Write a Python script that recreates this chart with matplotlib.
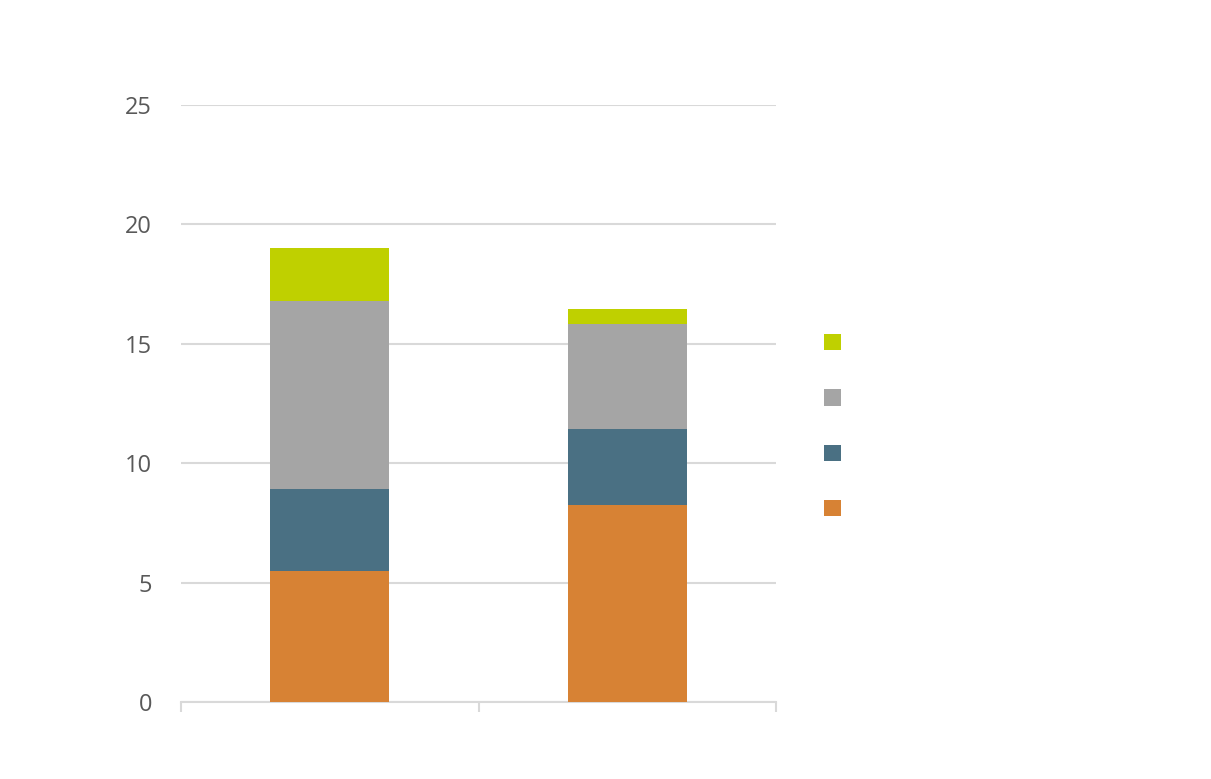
import matplotlib
matplotlib.use("Agg")
import matplotlib.pyplot as plt
import numpy as np

# data
categories = ["A", "B"]
orange = [5.5, 8.25]
blue = [3.4, 3.2]
gray = [7.9, 4.4]
green = [2.2, 0.6]

colors = ["#d78234", "#4a7083", "#a5a5a5", "#bfd000"]
series = [orange, blue, gray, green]

plt.rcParams['font.family'] = ['Open Sans', 'DejaVu Sans']

fig = plt.figure(figsize=(12.11, 7.79), dpi=100)
ax = fig.add_axes([0.1495, 0.0988, 0.4913, 0.7664])

x = np.arange(len(categories)) + 0.5
bottom = np.zeros(len(categories))
bars = []
for vals, c in zip(series, colors):
    b = ax.bar(x, vals, width=0.4, bottom=bottom, color=c, zorder=3)
    bars.append(b)
    bottom += np.array(vals)

ax.set_xlim(0, len(categories))
ax.set_ylim(0, 25)
ax.set_yticks(np.arange(0, 26, 5))
ax.set_xticks(np.arange(0, len(categories) + 1))
ax.set_xticklabels([])
ax.yaxis.grid(True, color="#d9d9d9", linewidth=1.5, zorder=0)
ax.set_axisbelow(True)
for s in ["top", "right", "left"]:
    ax.spines[s].set_visible(False)
ax.spines["bottom"].set_color("#d9d9d9")
ax.spines["bottom"].set_linewidth(1.5)
ax.tick_params(axis="y", length=0, pad=21, labelsize=17, labelcolor="#595959")
ax.tick_params(axis="x", length=7, width=1.5, color="#d9d9d9", direction="out")

# legend: colour squares only, no text
leg = fig.legend(bars[::-1], ["", "", "", ""], loc="center left",
                 bbox_to_anchor=(0.672, 0.4527), frameon=False, fontsize=14,
                 handlelength=0.9, handleheight=0.9, labelspacing=1.87,
                 handletextpad=0.3, borderpad=0)

plt.savefig("out.png", dpi=100)
